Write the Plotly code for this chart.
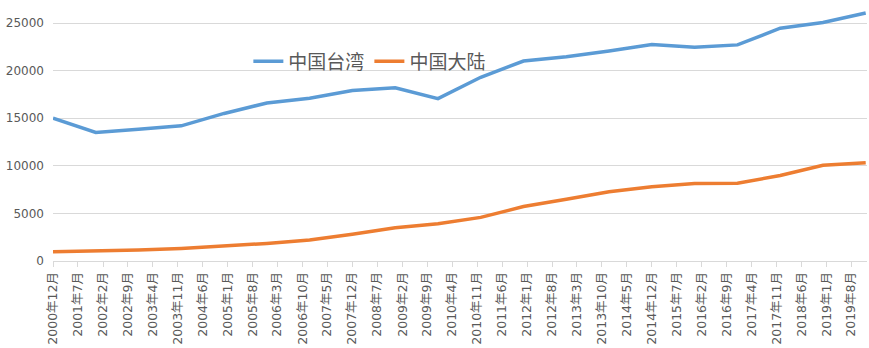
import plotly.graph_objects as go

years = list(range(2000, 2020))
taiwan = [15000, 13500, 13850, 14200, 15500, 16600, 17100, 17900, 18200, 17050,
          19300, 21000, 21450, 22050, 22750, 22450, 22700, 24450, 25050, 26050]
mainland = [980, 1030, 1150, 1320, 1570, 1850, 2200, 2800, 3500, 3920,
            4580, 5720, 6480, 7280, 7810, 8150, 8170, 8980, 10050, 10330]

series_names = ["中国台湾", "中国大陆"]
colors = ["#5B9BD5", "#ED7D31"]

y_ticks = [0, 5000, 10000, 15000, 20000, 25000]

# tick labels every 7 months, from 2000-12 to 2019-08
tick_months = []
y, m = 2000, 12
while (y, m) <= (2019, 8):
    tick_months.append((y, m))
    m += 7
    while m > 12:
        m -= 12
        y += 1
tick_vals = [f"{yy}-{mm:02d}-01" for yy, mm in tick_months]
tick_text = [f"{yy}年{mm}月" for yy, mm in tick_months]

x_dates = [f"{yy}-12-01" for yy in years]

fig = go.Figure()
for name, vals, col in zip(series_names, [taiwan, mainland], colors):
    fig.add_trace(go.Scatter(x=x_dates, y=vals, mode="lines", name=name,
                             line=dict(color=col, width=3.5)))

font_family = "DejaVu Sans, Noto Sans CJK SC, sans-serif"
fig.update_layout(
    width=869, height=348,
    margin=dict(l=53, r=2, t=10, b=87),
    paper_bgcolor="white", plot_bgcolor="white",
    font=dict(family=font_family, color="#595959", size=12),
    showlegend=True,
    legend=dict(orientation="h", x=0.24, y=0.795, xanchor="left", yanchor="middle",
                bgcolor="rgba(0,0,0,0)", font=dict(size=19, color="#595959",
                family="Noto Sans CJK SC, sans-serif"),
                itemwidth=30),
    xaxis=dict(type="date", range=["2000-12-01", "2019-12-12"],
               tickmode="array", tickvals=tick_vals, ticktext=tick_text,
               tickangle=-90, ticks="outside", ticklen=5, tickcolor="#D9D9D9",
               showline=True, linecolor="#D9D9D9", linewidth=1,
               showgrid=False, zeroline=False,
               tickfont=dict(size=12.5, color="#595959")),
    yaxis=dict(range=[0, 26365], tickmode="array", tickvals=y_ticks,
               ticktext=[str(v) for v in y_ticks],
               showgrid=True, gridcolor="#D9D9D9", gridwidth=1,
               zeroline=False, showline=False, ticks="",
               ticklabelstandoff=8,
               tickfont=dict(size=12, color="#595959")),
)

fig.write_html("out.html")
